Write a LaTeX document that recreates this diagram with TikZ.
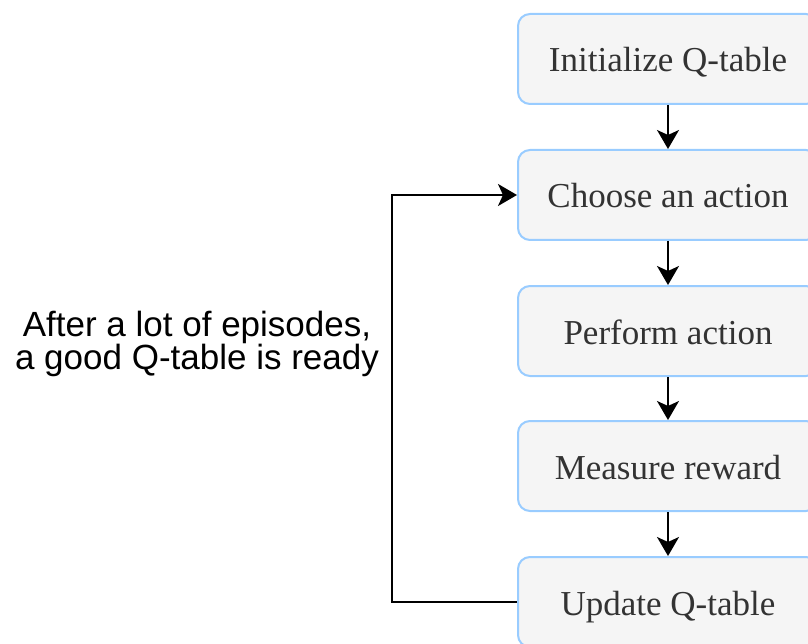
\documentclass[tikz,border=0pt]{standalone}
\usepackage{fontspec}
\setmainfont{Liberation Serif}
\newfontfamily\labelfont{Liberation Sans}
\usetikzlibrary{arrows.meta}
\definecolor{boxfill}{HTML}{F5F5F5}
\definecolor{boxline}{HTML}{99CCFF}
\definecolor{boxtext}{HTML}{333333}
\tikzset{
  stepbox/.style={draw=boxline, line width=2pt, fill=boxfill, rounded corners=12pt,
    minimum width=300pt, minimum height=90pt, inner sep=0pt, anchor=center,
    text height=30pt, text depth=4pt,
    text=boxtext, font=\fontsize{35}{38}\selectfont},
  flow/.style={line width=2pt, draw=black, -{Stealth[length=19pt,width=22pt,inset=5pt]}},
}
\begin{document}
\begin{tikzpicture}[x=1pt,y=-1pt]
\useasboundingbox (0,0) rectangle (808,644);
\node[stepbox] (b1) at (668,59) {Initialize Q-table};
\node[stepbox] (b2) at (668,195) {Choose an action};
\node[stepbox] (b3) at (668,331) {Perform action};
\node[stepbox] (b4) at (668,466) {Measure reward};
\node[stepbox] (b5) at (668,602) {Update Q-table};
\draw[flow] (b1) -- (b2);
\draw[flow] (b2) -- (b3);
\draw[flow] (b3) -- (b4);
\draw[flow] (b4) -- (b5);
\coordinate (cl) at (392,602);
\coordinate (ct) at (392,195);
\draw[flow] (b5.west) -- (cl) -- (ct) -- (b2.west);
\node[align=center, font=\labelfont\fontsize{35}{33}\selectfont, inner sep=0pt] (lbl) at (197,344) {After a lot of episodes,\\ a good Q-table is ready};
\end{tikzpicture}
\end{document}
